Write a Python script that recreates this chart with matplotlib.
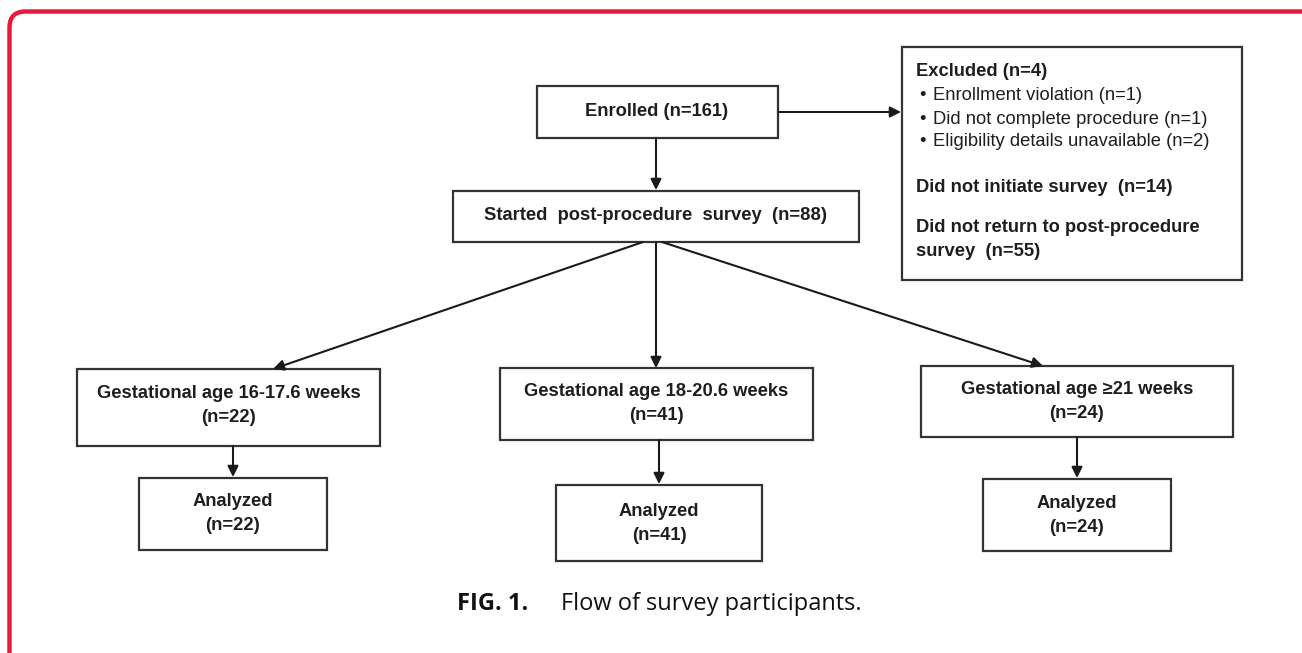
import matplotlib
matplotlib.use("Agg")
import matplotlib.pyplot as plt
from matplotlib.patches import Rectangle, FancyBboxPatch

# ---- data ----
enrolled_n = 161
started_n = 88
excluded_n = 4
excluded_reasons = ["Enrollment violation", "Did not complete procedure", "Eligibility details unavailable"]
excluded_counts = [1, 1, 2]
not_initiated_n = 14
not_returned_n = 55
group_labels = ["Gestational age 16-17.6 weeks", "Gestational age 18-20.6 weeks", "Gestational age \u226521 weeks"]
group_counts = [22, 41, 24]
analyzed_counts = [22, 41, 24]
caption_bold = "FIG. 1."
caption_text = "Flow of survey participants."

W, H = 1302, 653
fig = plt.figure(figsize=(W / 100, H / 100), dpi=100)
ax = fig.add_axes([0, 0, 1, 1])
ax.set_xlim(0, W)
ax.set_ylim(H, 0)
ax.axis("off")

FONT = "Liberation Sans"
EC = "#333333"
TC = "#1e1e1e"
LW = 1.6
FS = 13.2

# red frame
frame = FancyBboxPatch((9.5, 11.5), 1400, 700, boxstyle="round,pad=0,rounding_size=16",
                       fill=False, ec="#e8193c", lw=3.2, clip_on=True)
ax.add_patch(frame)


def box(x0, y0, x1, y1):
    ax.add_patch(Rectangle((x0, y0), x1 - x0, y1 - y0, fill=True, fc="white", ec=EC, lw=LW))


def arrow(x0, y0, x1, y1):
    ax.annotate("", xy=(x1, y1), xytext=(x0, y0),
                arrowprops=dict(arrowstyle="-|>", color="#1a1a1a", lw=1.5,
                                mutation_scale=16, shrinkA=0, shrinkB=0))


def txt(x, y, s, bold=True, ha="center", size=FS):
    ax.text(x, y, s, ha=ha, va="center", fontsize=size, color=TC,
            fontfamily=FONT, fontweight="bold" if bold else "normal")


# Enrolled
box(537, 86, 778, 138)
txt(657, 112, f"Enrolled (n={enrolled_n})")

# Started
box(453, 191, 859, 242)
txt(656, 216, f"Started  post-procedure  survey  (n={started_n})")

# Excluded box
box(902, 47, 1242, 280)
txt(916, 72, f"Excluded (n={excluded_n})", ha="left")
for i, (r, c) in enumerate(zip(excluded_reasons, excluded_counts)):
    y = 96 + 23 * i
    txt(922, y, "\u2022", bold=False, ha="center")
    txt(933, y, f"{r} (n={c})", bold=False, ha="left")
txt(916, 187, f"Did not initiate survey  (n={not_initiated_n})", ha="left")
txt(916, 228, "Did not return to post-procedure", ha="left")
txt(916, 252, f"survey  (n={not_returned_n})", ha="left")

# arrows top
arrow(778, 112, 901, 112)
arrow(656, 138, 656, 190)

# group boxes
gboxes = [(77, 369, 380, 446), (500, 368, 813, 440), (921, 366, 1233, 437)]
aboxes = [(139, 478, 327, 550), (556, 485, 762, 561), (983, 479, 1171, 551)]
tops = [(643, 242, 273, 369), (656, 242, 656, 368), (662, 242, 1043, 366)]

for (gx0, gy0, gx1, gy1), (ax0, ay0, ax1, ay1), (sx, sy, ex, ey), lab, gn, an in zip(
        gboxes, aboxes, tops, group_labels, group_counts, analyzed_counts):
    box(gx0, gy0, gx1, gy1)
    gc = (gx0 + gx1) / 2
    txt(gc, gy0 + 24, lab)
    txt(gc, gy0 + 48, f"(n={gn})")
    arrow(sx, sy, ex, ey)
    acx = (ax0 + ax1) / 2
    arrow(acx, gy1, acx, ay0 - 1)
    box(ax0, ay0, ax1, ay1)
    mid = (ay0 + ay1) / 2
    txt(acx, mid - 12, "Analyzed")
    txt(acx, mid + 12, f"(n={an})")

# caption
ax.text(457, 604, caption_bold, ha="left", va="center", fontsize=17, fontweight="bold",
        fontfamily="Open Sans", color="#111111")
ax.text(561, 604, caption_text, ha="left", va="center", fontsize=17,
        fontfamily="Open Sans", color="#111111")

fig.savefig("out.png", dpi=100)
